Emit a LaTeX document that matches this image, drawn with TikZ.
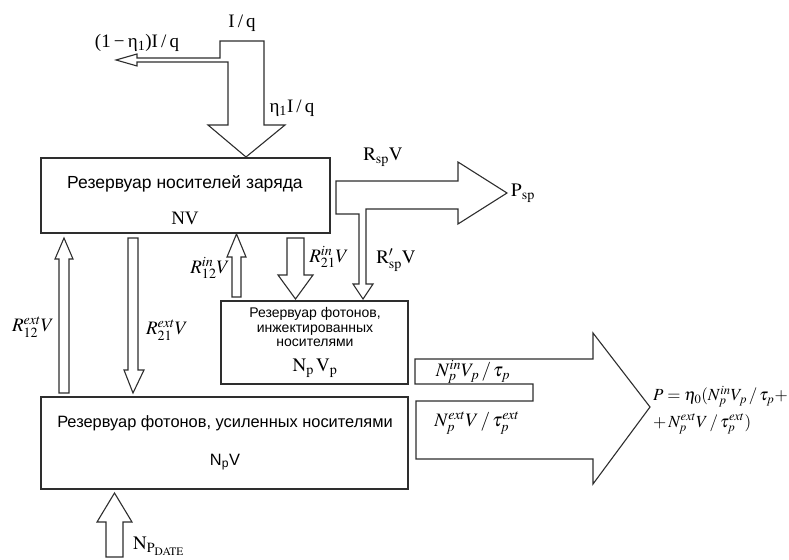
\documentclass[tikz,border=0pt]{standalone}
\usepackage{mathptmx}
\usepackage{fontspec}
\setmainfont{Liberation Serif}
\setsansfont{Liberation Sans}
\usetikzlibrary{positioning}
\definecolor{FlowInk}{HTML}{2E2E2E}
\tikzset{
  every node/.style={text=black, inner sep=0pt},
  tank/.style={draw=FlowInk, line width=1.2pt, fill=white},
  flow/.style={draw=FlowInk, line width=1.1pt, fill=white, line join=miter},
  tanktext/.style={font=\sffamily\fontsize{#1}{18}\selectfont},
  tanktext/.default=17.5,
  smalltanktext/.style={font=\sffamily\fontsize{14}{14.5}\selectfont, align=center},
  rate/.style={font=\fontsize{19}{22}\selectfont},
  formula/.style={font=\fontsize{17}{20}\selectfont, anchor=west},
}
\begin{document}
\begin{tikzpicture}[x=1pt,y=-1pt]
  \useasboundingbox (0,0) rectangle (789,559);
  % Reservoirs
  \node[tank, minimum width=289pt, minimum height=75pt] (carriers) at (185.5,195.5) {};
  \node[tank, minimum width=187pt, minimum height=83pt] (injected) at (314.5,342.5) {};
  \node[tank, minimum width=367pt, minimum height=92pt] (amplified) at (224.5,443) {};
  \node[tanktext] (carrierstitle) at (185,184) {Резервуар носителей заряда};
  \node[rate] (carriersnv) at (185,218) {NV};
  \node[smalltanktext] (injectedtitle) at (315,327) {Резервуар фотонов,\\инжектированных\\носителями};
  \node[rate] (injectednv) at (315,368) {$\mathrm{N_p\,V_p}$};
  \node[tanktext=16.4] (amplifiedtitle) at (225,423) {Резервуар фотонов, усиленных носителями};
  \node[tanktext=16.4] (amplifiednv) at (225,462) {N\textsubscript{p}V};
  % Pump current, split into loss and injection
  \draw[flow] (116,60) -- (137,54) -- (137,58) -- (220,58) -- (220,41) -- (264,41)
    -- (264,125) -- (285,125) -- (246,157) -- (208,125) -- (228,125) -- (228,62)
    -- (137,62) -- (137,66) -- cycle;
  \node[rate] (pump) at (242,23) {I\,/\,q};
  \node[rate] (pumploss) at (137,43) {(1\,−\,η\textsubscript{1})I\,/\,q};
  \node[rate] (pumpin) at (292,108) {η\textsubscript{1}I\,/\,q};
  % Spontaneous emission, one branch into the injected reservoir
  \draw[flow] (336,181) -- (458,181) -- (458,162) -- (507,193) -- (458,224) -- (458,209)
    -- (366,209) -- (366,284) -- (373,284) -- (363,299) -- (353,284) -- (359,284)
    -- (359,214) -- (336,214) -- cycle;
  \node[rate] (rsp) at (383,157) {$\mathrm{R_{sp}V}$};
  \node[rate] (psp) at (523,193) {$\mathrm{P_{sp}}$};
  \node[rate] (rspprime) at (396,260) {$\mathrm{R'_{sp}V}$};
  % Exchange with the injected reservoir
  \draw[flow] (232,297) -- (232,257) -- (227,257) -- (236.5,234) -- (246,257) -- (241,257)
    -- (241,297) -- cycle;
  \draw[flow] (287,238) -- (304,238) -- (304,275) -- (313,275) -- (295.5,299) -- (278,275)
    -- (287,275) -- cycle;
  \node[rate] (r12in) at (210,268) {$R_{12}^{in}V$};
  \node[rate] (r21in) at (329,257) {$R_{21}^{in}V$};
  % Exchange with the amplified reservoir
  \draw[flow] (59,393) -- (59,259) -- (55,259) -- (64,238) -- (73,259) -- (69,259)
    -- (69,393) -- cycle;
  \draw[flow] (128,238) -- (138,238) -- (138,370) -- (144,370) -- (133,393) -- (124,370)
    -- (128,370) -- cycle;
  \node[rate] (r12ext) at (33,327) {$R_{12}^{ext}V$};
  \node[rate] (r21ext) at (167,330) {$R_{21}^{ext}V$};
  % Seed photons
  \draw[flow] (106,557) -- (106,522) -- (97,522) -- (114.5,493) -- (132,522) -- (123,522)
    -- (123,557) -- cycle;
  \node[rate, anchor=west] (seed) at (133,546) {$\mathrm{N_{P_{DATE}}}$};
  % Output power
  \draw[flow] (415,359) -- (593,359) -- (593,333) -- (650,407) -- (593,484) -- (593,459)
    -- (416,459) -- (416,401) -- (533,401) -- (533,384) -- (415,384) -- cycle;
  \node[rate] (outin) at (473,372) {$N_p^{in}V_p\,/\,\tau_p$};
  \node[rate] (outext) at (477,423) {$N_p^{ext}V\,/\,\tau_p^{ext}$};
  \node[formula] (powerone) at (653,397) {$P=\eta_0(N_p^{in}V_p\,/\,\tau_p+$};
  \node[formula] (powertwo) at (653,424) {$+\,N_p^{ext}V\,/\,\tau_p^{ext})$};
\end{tikzpicture}
\end{document}
